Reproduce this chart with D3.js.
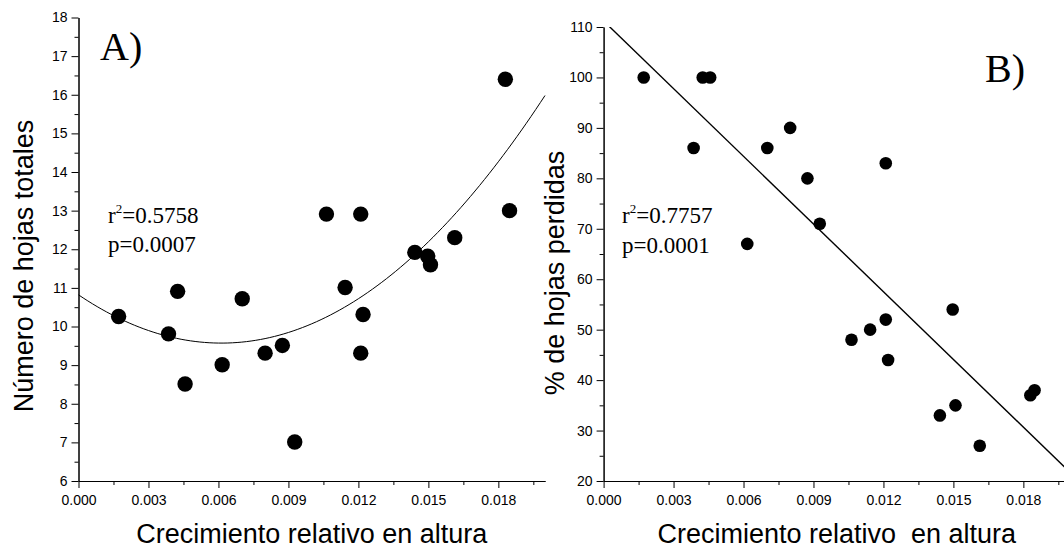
<!DOCTYPE html>
<html>
<head>
<meta charset="utf-8">
<script src="https://cdn.jsdelivr.net/npm/d3@7"></script>
<style>
	body { margin: 0; background: #fff; }
	text { fill: #000; }
	.tick text { font-family: "Liberation Sans", Arial, sans-serif; font-size: 14px; }
	.title { font-family: "Liberation Sans", Arial, sans-serif; font-size: 27px; white-space: pre; }
	.serif { font-family: "Liberation Serif", "Times New Roman", serif; }
</style>
</head>
<body>
<svg id="chart"></svg>
<script>

// Relative height growth, shared by both panels
var growth = [0.00172, 0.00386, 0.00425, 0.00457, 0.00616, 0.00702, 0.0080, 0.00874, 0.00927, 0.01063,
	0.0121, 0.01143, 0.0122, 0.0121, 0.01442, 0.01497, 0.01509, 0.01613, 0.0183, 0.01848];

// A) total number of leaves
var totalLeaves = [10.26, 9.81, 10.91, 8.51, 9.01, 10.72, 9.31, 9.51, 7.01, 12.91,
	12.91, 11.01, 10.31, 9.31, 11.92, 11.82, 11.6, 12.3, 16.4, 13.0];

// B) % of leaves lost
var leavesLost = [100, 86, 100, 100, 67, 86, 90, 80, 71, 48,
	83, 50, 44, 52, 33, 54, 35, 27, 37, 38];

// fitted curves (as printed on the figure)
var fitA = { a: 10.82, b: -408, c: 33300 };
var fitB = { intercept: 111.2, slope: -4473 };

var xTicks = [0, 0.003, 0.006, 0.009, 0.012, 0.015, 0.018];
var xMinor = [0.0015, 0.0045, 0.0075, 0.0105, 0.0135, 0.0165, 0.0195];
var yTicksA = [6, 7, 8, 9, 10, 11, 12, 13, 14, 15, 16, 17, 18];
var yTicksB = [20, 30, 40, 50, 60, 70, 80, 90, 100, 110];

var width = 1064,
	height = 548;

var svg = d3.select("#chart")
	.attr("width", width)
	.attr("height", height);

function drawAxes(g, x, y, yTicks, yStep){
	g.append("g")
		.attr("transform", "translate(0," + y.range()[0] + ")")
		.call(d3.axisBottom(x).tickValues(xMinor).tickSize(4).tickFormat("").tickSizeOuter(0));
	g.append("g")
		.attr("transform", "translate(0," + y.range()[0] + ")")
		.call(d3.axisBottom(x).tickValues(xTicks).tickSize(7).tickPadding(7)
			.tickFormat(d3.format(".3f")).tickSizeOuter(0));

	var yMinor = yTicks.slice(0, -1).map(function(d){ return d + yStep / 2; });
	g.append("g")
		.attr("transform", "translate(" + x.range()[0] + ",0)")
		.call(d3.axisLeft(y).tickValues(yMinor).tickSize(4).tickFormat("").tickSizeOuter(0));
	g.append("g")
		.attr("transform", "translate(" + x.range()[0] + ",0)")
		.call(d3.axisLeft(y).tickValues(yTicks).tickSize(7).tickPadding(4).tickSizeOuter(0));

	g.selectAll(".domain, .tick line").attr("stroke", "#000");
}

// ---------- Panel A
var xA = d3.scaleLinear().domain([0, 0.02]).range([78.5, 545]);
var yA = d3.scaleLinear().domain([6, 18]).range([481, 17.5]);

var gA = svg.append("g");
drawAxes(gA, xA, yA, yTicksA, 1);

var curveA = d3.range(0, 0.02001, 0.0002).map(function(x){
	return [x, fitA.a + fitA.b * x + fitA.c * x * x];
});
gA.append("path")
	.datum(curveA)
	.attr("fill", "none")
	.attr("stroke", "#000")
	.attr("stroke-width", 1)
	.attr("d", d3.line()
		.x(function(d){ return xA(d[0]); })
		.y(function(d){ return yA(d[1]); }));

gA.selectAll(".pt")
	.data(growth)
	.enter()
		.append("circle")
			.attr("cx", function(d){ return xA(d); })
			.attr("cy", function(d,i){ return yA(totalLeaves[i]); })
			.attr("r", 7.7)
			.attr("fill", "#000");

gA.append("text").attr("class", "title")
	.attr("x", xA(0.01)).attr("y", 543)
	.attr("text-anchor", "middle")
	.text("Crecimiento relativo en altura");
gA.append("text").attr("class", "title")
	.attr("transform", "translate(33,266) rotate(-90)")
	.attr("text-anchor", "middle")
	.text("Número de hojas totales");
gA.append("text").attr("class", "serif")
	.attr("x", 100).attr("y", 60)
	.style("font-size", "40px")
	.text("A)");

var statA = gA.append("text").attr("class", "serif").style("font-size", "23px");
statA.append("tspan").attr("x", 108).attr("y", 223).text("r");
statA.append("tspan").attr("dy", -10).style("font-size", "13px").text("2");
statA.append("tspan").attr("dy", 10).text("=0.5758");
gA.append("text").attr("class", "serif").style("font-size", "23px")
	.attr("x", 108).attr("y", 252).text("p=0.0007");

// ---------- Panel B
var xB = d3.scaleLinear().domain([0, 0.02]).range([603.6, 1070]);
var yB = d3.scaleLinear().domain([20, 110]).range([481, 27]);

var gB = svg.append("g");
drawAxes(gB, xB, yB, yTicksB, 10);

svg.append("clipPath").attr("id", "clipB")
	.append("rect")
		.attr("x", xB(0)).attr("y", yB(110))
		.attr("width", xB(0.02) - xB(0)).attr("height", yB(20) - yB(110));

gB.append("line")
	.attr("clip-path", "url(#clipB)")
	.attr("x1", xB(0)).attr("y1", yB(fitB.intercept))
	.attr("x2", xB(0.02)).attr("y2", yB(fitB.intercept + fitB.slope * 0.02))
	.attr("stroke", "#000")
	.attr("stroke-width", 1.4);

gB.selectAll(".pt")
	.data(growth)
	.enter()
		.append("circle")
			.attr("cx", function(d){ return xB(d); })
			.attr("cy", function(d,i){ return yB(leavesLost[i]); })
			.attr("r", 6.3)
			.attr("fill", "#000");

gB.append("text").attr("class", "title")
	.attr("x", xB(0.01)).attr("y", 543)
	.attr("text-anchor", "middle")
	.text("Crecimiento relativo  en altura");
gB.append("text").attr("class", "title")
	.attr("transform", "translate(564,273) rotate(-90)")
	.attr("text-anchor", "middle")
	.text("% de hojas perdidas");
gB.append("text").attr("class", "serif")
	.attr("x", 985).attr("y", 82)
	.style("font-size", "40px")
	.text("B)");

var statB = gB.append("text").attr("class", "serif").style("font-size", "23px");
statB.append("tspan").attr("x", 622).attr("y", 223).text("r");
statB.append("tspan").attr("dy", -10).style("font-size", "13px").text("2");
statB.append("tspan").attr("dy", 10).text("=0.7757");
gB.append("text").attr("class", "serif").style("font-size", "23px")
	.attr("x", 622).attr("y", 253).text("p=0.0001");

</script>
</body>
</html>
